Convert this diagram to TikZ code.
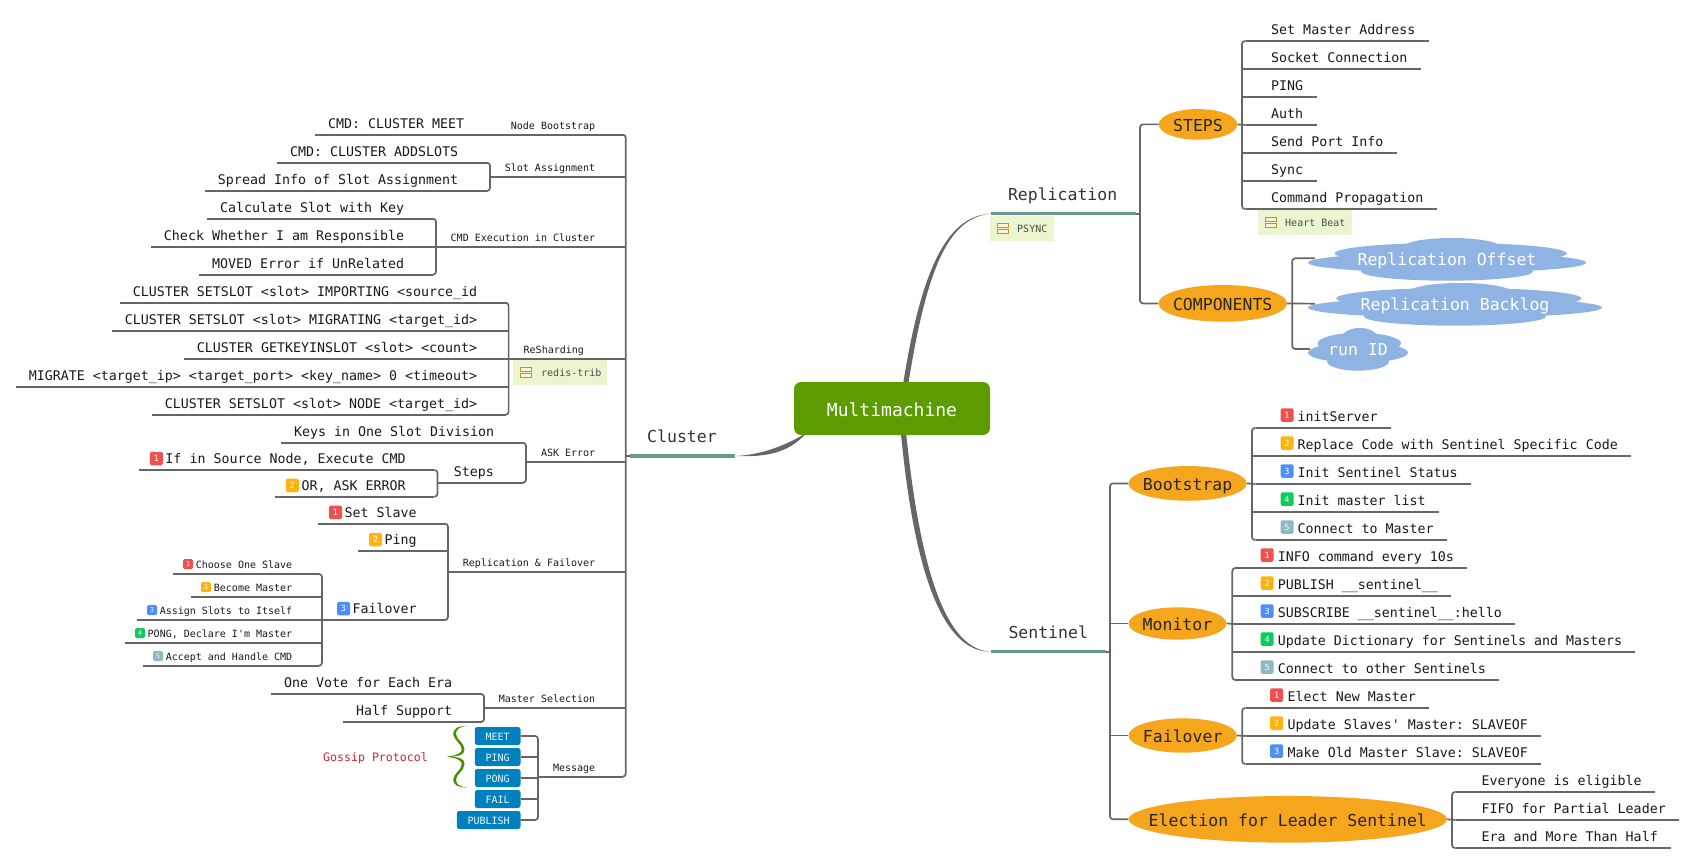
\documentclass[tikz,border=0pt]{standalone}
\usepackage{fontspec}
\setmonofont{DejaVu Sans Mono}
\usepackage{xcolor}
\usetikzlibrary{shapes.geometric,calc}

\definecolor{linegray}{HTML}{666666}
\definecolor{barteal}{HTML}{6B9A92}
\definecolor{rootgreen}{HTML}{5C9C00}
\definecolor{topicorange}{HTML}{F5A61D}
\definecolor{cloudblue}{HTML}{8FB4E3}
\definecolor{notegreen}{HTML}{EBF6D0}
\definecolor{iconbrown}{HTML}{C0922A}
\definecolor{iconfill}{HTML}{FDF3D8}
\definecolor{pillblue}{HTML}{0081BD}
\definecolor{bracegreen}{HTML}{4C8C00}
\definecolor{gossipred}{HTML}{C8282A}
\definecolor{bred}{HTML}{F05050}
\definecolor{borange}{HTML}{FFB310}
\definecolor{bblue}{HTML}{4D8EF7}
\definecolor{bgreen}{HTML}{0BCB5B}
\definecolor{bteal}{HTML}{8CB9C2}

\newcommand{\froot}{\ttfamily\fontsize{18}{20}\selectfont}
\newcommand{\ftopic}{\ttfamily\fontsize{16.5}{19}\selectfont}
\newcommand{\fleaf}{\ttfamily\fontsize{13.3}{15}\selectfont}
\newcommand{\fsmall}{\ttfamily\fontsize{10}{12}\selectfont}
\newcommand{\fgossip}{\ttfamily\fontsize{11.6}{13}\selectfont}
\newcommand{\fnum}{\ttfamily\fontsize{8.5}{9}\selectfont}
\newcommand{\fnumsm}{\ttfamily\fontsize{6.5}{7}\selectfont}
\newcommand{\ovtext}[1]{\makebox[0pt]{#1}}

\begin{document}
\begin{tikzpicture}[
    x=1pt, y=-1pt,
    branch/.style={draw=linegray, line width=1.7pt},
    corner/.style={branch, rounded corners=3pt},
    bar/.style={draw=barteal, line width=3.4pt},
    under/.style={append after command={(\tikzlastnode.south west) edge[branch] (\tikzlastnode.south east)}},
    lnode/.style 2 args={anchor=south west, inner xsep=0pt, text width=#1pt, align=flush right, execute at end node={\hspace*{#2pt}}},
    rnode/.style 2 args={anchor=south west, inner xsep=0pt, text width=#1pt, align=flush left, execute at begin node={\hspace*{#2pt}}},
    leaflook/.style={font=\fleaf, text=black!90, text height=10pt, text depth=3pt, inner ysep=3.3pt, under},
    smalllook/.style={font=\fsmall, text=black!90, text height=8pt, text depth=2.5pt, inner ysep=2.8pt, under},
    leftleaf/.style 2 args={lnode={#1}{#2}, leaflook},
    rightleaf/.style 2 args={rnode={#1}{#2}, leaflook},
    leftsmall/.style 2 args={lnode={#1}{#2}, smalllook},
    topic/.style 2 args={rnode={#1}{#2}, font=\ftopic, text=black!80, text height=12pt, text depth=3.5pt, inner ysep=9.6pt,
        append after command={(\tikzlastnode.south west) edge[bar] (\tikzlastnode.south east)}},
    rootbox/.style={rectangle, fill=rootgreen, rounded corners=7pt, text=white, font=\froot, minimum width=196pt, minimum height=53pt, text height=15.4pt, text depth=0pt},
    oval/.style={ellipse, fill=topicorange, inner sep=0pt, font=\ftopic, text=black!85, text height=14.5pt, text depth=0pt},
    notebox/.style 2 args={rnode={#1}{#2}, anchor=north west, fill=notegreen, font=\fsmall, text=black!70, inner ysep=0pt, minimum height=25pt, text height=8.5pt, text depth=0pt},
    pill/.style={rectangle, anchor=east, fill=pillblue, rounded corners=2.5pt, text=white!90!cyan, font=\fsmall, minimum height=18pt, inner sep=0pt, text height=8pt, text depth=0pt},
    badge/.style={rectangle, rounded corners=1.5pt, text=white, font=\fnum, minimum width=13pt, minimum height=13.5pt, inner sep=0pt},
    badgesm/.style={badge, font=\fnumsm, minimum width=10pt, minimum height=10pt},
    cloudy/.style 2 args={rectangle, inner sep=0pt, minimum width=#1pt, minimum height=#2pt, font=\ftopic, text=white, text height=11.4pt, text depth=0pt,
        path picture={
            \fill[cloudblue] ([shift={(.017*#1,-.29*#2)}]path picture bounding box.center) ellipse [x radius=.175*#1, y radius=.21*#2];
            \fill[cloudblue] ([shift={(.013*#1,-.15*#2)}]path picture bounding box.center) ellipse [x radius=.417*#1, y radius=.24*#2];
            \fill[cloudblue] ([shift={(0,.06*#2)}]path picture bounding box.center) ellipse [x radius=.5*#1, y radius=.23*#2];
            \fill[cloudblue] ([shift={(0,.26*#2)}]path picture bounding box.center) ellipse [x radius=.31*#1, y radius=.21*#2];
        }},
    noteicon/.pic={
        \draw[iconbrown, fill=iconfill, line width=.8pt] (0,-5.3) rectangle (11,-1);
        \draw[iconbrown, fill=iconfill, line width=.8pt] (0,1) rectangle (11,5.3);
    }
]
\useasboundingbox (0,0) rectangle (1696,864);

% main topics and the tapered links
\node[topic={145}{16.8}] (replication) at (991,213.7) {Replication};
\node[topic={115}{17.3}] (sentinel) at (991,651.7) {Sentinel};
\node[topic={105}{17}] (cluster) at (630,456) {Cluster};
\coordinate (rootup) at (905.7,384);
\coordinate (rootdown) at (903.5,433);
\coordinate (rootleft) at (806,433);
\fill[linegray] ([xshift=-2.6pt]rootup) .. controls (922.5,261) and (950,215.5) .. (replication.south west)
    .. controls (950,217.5) and (927.5,263) .. ([xshift=2.6pt]rootup) -- cycle;
\fill[linegray] ([xshift=-2.6pt]rootdown) .. controls (916,592) and (949,652.3) .. (sentinel.south west)
    .. controls (951,650) and (922,588) .. ([xshift=2.6pt]rootdown) -- cycle;
\fill[linegray] ([shift={(2.5,-1.5)}]rootleft) .. controls (786,446) and (760,455) .. (cluster.south east)
    .. controls (760,457) and (785,455) .. ([shift={(-3,3.5)}]rootleft) -- cycle;
\node[rootbox] (root) at (892,408.5) {Multimachine};

% cluster: trunk labels
\node[leftsmall={142.2}{27.2}] (tboot) at (480,134.7) {Node Bootstrap};
\node[leftsmall={132.2}{27.2}] (tslot) at (490,177) {Slot Assignment};
\node[leftsmall={186.2}{27.2}] (texec) at (436,246.7) {CMD Execution in Cluster};
\node[leftsmall={113.6}{38.5}] (tresh) at (508.6,358.7) {ReSharding};
\node[leftsmall={96.2}{27.2}] (task) at (526,462.3) {ASK Error};
\node[leftsmall={174.2}{27.2}] (trepl) at (448,571.7) {Replication \& Failover};
\node[leftsmall={138.2}{27.2}] (tmast) at (484,707.7) {Master Selection};
\node[leftsmall={84.2}{27.2}] (tmsg) at (538,776.7) {Message};
\coordinate (trunk) at (625.7,456);
\draw[corner] (tboot.south east) -| (trunk) |- (tmsg.south east);
\draw[branch] (cluster.south west) -- (trunk);
\draw[branch] (tslot.south east) -- (tslot.south east -| trunk);
\draw[branch] (texec.south east) -- (texec.south east -| trunk);
\draw[branch] (tresh.south east) -- (tresh.south east -| trunk);
\draw[branch] (task.south east) -- (task.south east -| trunk);
\draw[branch] (trepl.south east) -- (trepl.south east -| trunk);
\draw[branch] (tmast.south east) -- (tmast.south east -| trunk);

% cluster: leaves
\node[leftleaf={165}{16}] (meet) at (315,134.7) {CMD: CLUSTER MEET};
\node[leftleaf={209.5}{28.5}] (slot1) at (277,162.7) {CMD: CLUSTER ADDSLOTS};
\node[leftleaf={281.5}{28.5}] (slot2) at (205,191) {Spread Info of Slot Assignment};
\draw[corner] (slot1.south east) -| (tslot.south west) |- (slot2.south east);

\node[leftleaf={225.5}{28.5}] (exec1) at (207,218.7) {Calculate Slot with Key};
\node[leftleaf={281.5}{28.5}] (exec2) at (151,246.7) {Check Whether I am Responsible};
\node[leftleaf={233.5}{28.5}] (exec3) at (199,274.7) {MOVED Error if UnRelated};
\draw[corner] (exec1.south east) -| (texec.south west) |- (exec3.south east);
\draw[branch] (exec2.south east) -- (texec.south west);

\node[leftleaf={385.1}{28.1}] (resh1) at (120,302.7) {CLUSTER SETSLOT <slot> IMPORTING <source\_id};
\node[leftleaf={393.1}{28.1}] (resh2) at (112,330.7) {CLUSTER SETSLOT <slot> MIGRATING <target\_id>};
\node[leftleaf={321.1}{28.1}] (resh3) at (184,358.7) {CLUSTER GETKEYINSLOT <slot> <count>};
\node[leftleaf={489.1}{28.1}] (resh4) at (16,386.7) {MIGRATE <target\_ip> <target\_port> <key\_name> 0 <timeout>};
\node[leftleaf={353.1}{28.1}] (resh5) at (152,414.7) {CLUSTER SETSLOT <slot> NODE <target\_id>};
\draw[corner] (resh1.south east) -| (tresh.south west) |- (resh5.south east);
\draw[branch] (resh2.south east) -- (resh2.south east -| tresh.south west);
\draw[branch] (resh3.south east) -- (tresh.south west);
\draw[branch] (resh4.south east) -- (resh4.south east -| tresh.south west);
\node[notebox={94}{28}] (notetrib) at (513,360) {redis-trib};
\pic (icontrib) at (520,372.5) {noteicon};

\node[leftleaf={241.5}{28.5}] (ask1) at (281,442.7) {Keys in One Slot Division};
\node[leftleaf={85}{28.9}] (asksteps) at (437.5,482.7) {Steps};
\draw[corner] (ask1.south east) -| (task.south west) |- (asksteps.south east);
\node[leftleaf={295}{28.5}] (step1) at (139,470) {If in Source Node, Execute CMD};
\node[leftleaf={159}{28.5}] (step2) at (275,496.7) {OR, ASK ERROR};
\draw[corner] (step1.south east) -| (asksteps.south west) |- (step2.south east);
\node[badge, fill=bred] (bstep1) at (156.3,458.5) {1};
\node[badge, fill=borange] (bstep2) at (292.3,485.4) {2};

\node[leftleaf={126.5}{28}] (rf1) at (318,523.7) {Set Slave};
\node[leftleaf={86.5}{28}] (rf2) at (358,550.7) {Ping};
\node[leftleaf={122.5}{28}] (rf3) at (322,620) {Failover};
\draw[corner] (rf1.south east) -| (trepl.south west) |- (rf3.south east);
\draw[branch] (rf2.south east) -- (rf2.south east -| trepl.south west);
\node[badge, fill=bred] (brf1) at (335.5,512.4) {1};
\node[badge, fill=borange] (brf2) at (375.5,539.5) {2};
\node[badge, fill=bblue] (brf3) at (343.5,608.5) {3};

\node[leftsmall={145.5}{26.5}] (over1) at (173,574) {Choose One Slave};
\node[leftsmall={127.5}{26.5}] (over2) at (191,596.7) {Become Master};
\node[leftsmall={181.5}{26.5}] (over3) at (137,620) {Assign Slots to Itself};
\node[leftsmall={193.5}{26.5}] (over4) at (125,642.7) {PONG, Declare I'm Master};
\node[leftsmall={175.5}{26.5}] (over5) at (143,665.7) {Accept and Handle CMD};
\draw[corner] (over1.south east) -| (rf3.south west) |- (over5.south east);
\draw[branch] (over2.south east) -- (over2.south east -| rf3.south west);
\draw[branch] (over3.south east) -- (rf3.south west);
\draw[branch] (over4.south east) -- (over4.south east -| rf3.south west);
\node[badgesm, fill=bred] (bover1) at (188,564) {1};
\node[badgesm, fill=borange] (bover2) at (206,587) {2};
\node[badgesm, fill=bblue] (bover3) at (152,610) {3};
\node[badgesm, fill=bgreen] (bover4) at (140,633) {4};
\node[badgesm, fill=bteal] (bover5) at (158,656) {5};

\node[leftleaf={209.5}{28.5}] (vote1) at (271,694) {One Vote for Each Era};
\node[leftleaf={137.5}{28.5}] (vote2) at (343,722) {Half Support};
\draw[corner] (vote1.south east) -| (tmast.south west) |- (vote2.south east);

\node[pill, minimum width=45.7pt] (msg1) at (520.7,736) {MEET};
\node[pill, minimum width=45.7pt] (msg2) at (520.7,757) {PING};
\node[pill, minimum width=45.7pt] (msg3) at (520.7,778) {PONG};
\node[pill, minimum width=45.7pt] (msg4) at (520.7,799) {FAIL};
\node[pill, minimum width=63.7pt] (msg5) at (520.7,820) {PUBLISH};
\draw[corner] (msg1.east) -| (tmsg.south west) |- (msg5.east);
\draw[branch] (msg2.east) -- (msg2.east -| tmsg.south west);
\draw[branch] (msg3.east) -- (msg3.east -| tmsg.south west);
\draw[branch] (msg4.east) -- (msg4.east -| tmsg.south west);
\fill[bracegreen] (468.3,725.7) .. controls (457,726) and (453,729) .. (453.2,734)
    .. controls (453.5,740) and (461.5,743) .. (461.8,749.5) .. controls (461.8,753.5) and (456,755.4) .. (446.7,756.7)
    .. controls (456,758) and (461.8,760) .. (461.8,764) .. controls (461.5,770.5) and (453.5,773.5) .. (453.2,779.5)
    .. controls (453,784.5) and (457,787.5) .. (468.3,787.7) .. controls (459,787) and (456,784) .. (456,779.5)
    .. controls (456,774) and (464.5,771) .. (464.5,764) .. controls (464.5,758.4) and (459,756.7) .. (446.7,756.7)
    .. controls (459,756.7) and (464.5,755) .. (464.5,749.5) .. controls (464.5,742.5) and (456,739.5) .. (456,734)
    .. controls (456,729.5) and (459,726.5) .. (468.3,725.7) -- cycle;
\node[font=\fgossip, text=gossipred, inner sep=0pt] (gossip) at (375.5,758.5) {Gossip Protocol};

% replication
\node[notebox={64}{27}] (notepsync) at (990,216) {PSYNC};
\pic (iconpsync) at (997,228.5) {noteicon};
\coordinate (repbr) at (1140,213.7);
\node[oval, minimum width=78.6pt, minimum height=30.7pt] (steps) at (1198,124.4) {\ovtext{STEPS}};
\node[oval, minimum width=128.6pt, minimum height=36.7pt] (components) at (1222.7,303.4) {\ovtext{COMPONENTS}};
\draw[branch] (replication.south east) -- (repbr);
\draw[corner] (steps.west) -| (repbr) |- (components.west);

\coordinate (stepbr) at (1242,125);
\node[rightleaf={183.5}{25.5}] (st1) at (1245.5,41) {Set Master Address};
\node[rightleaf={175.5}{25.5}] (st2) at (1245.5,69) {Socket Connection};
\node[rightleaf={71.5}{25.5}] (st3) at (1245.5,97) {PING};
\node[rightleaf={71.5}{25.5}] (st4) at (1245.5,125) {Auth};
\node[rightleaf={151.5}{25.5}] (st5) at (1245.5,153) {Send Port Info};
\node[rightleaf={71.5}{25.5}] (st6) at (1245.5,181) {Sync};
\node[rightleaf={191.5}{25.5}] (st7) at (1245.5,209) {Command Propagation};
\draw[branch] (steps.east) -- (st4.south west);
\draw[corner] (st1.south west) -| (stepbr) |- (st7.south west);
\draw[branch] (st2.south west) -- (st2.south west -| stepbr);
\draw[branch] (st3.south west) -- (st3.south west -| stepbr);
\draw[branch] (st5.south west) -- (st5.south west -| stepbr);
\draw[branch] (st6.south west) -- (st6.south west -| stepbr);
\node[notebox={94}{27}] (noteheart) at (1258,210) {Heart Beat};
\pic (iconheart) at (1265,222.5) {noteicon};

\node[cloudy={278}{44}] (cloud1) at (1447,260) {Replication Offset};
\node[cloudy={294}{44}] (cloud2) at (1455,305) {Replication Backlog};
\node[cloudy={100}{44}] (cloud3) at (1358,350) {run ID};
\coordinate (compbr) at (1292.2,303.7);
\draw[branch] (components.east) -- ([xshift=7pt,yshift=1.3pt]cloud2.west);
\draw[corner] ([xshift=7pt,yshift=1.7pt]cloud1.west) -| (compbr) |- ([xshift=2pt,yshift=1pt]cloud3.west);

% sentinel
\coordinate (sentbr) at (1110,651.7);
\node[oval, minimum width=118.3pt, minimum height=34.7pt] (boot) at (1187.6,483.4) {\ovtext{Bootstrap}};
\node[oval, minimum width=98pt, minimum height=32.4pt] (monitor) at (1177.5,623.5) {\ovtext{Monitor}};
\node[oval, minimum width=108.4pt, minimum height=34.4pt] (failover) at (1182.7,735.5) {\ovtext{Failover}};
\node[oval, minimum width=318.5pt, minimum height=46.7pt] (election) at (1287.8,819.3) {\ovtext{Election for Leader Sentinel}};
\draw[branch] (sentinel.south east) -- (sentbr);
\draw[corner] (boot.west) -| (sentbr) |- (election.west);
\draw[branch] (monitor.west) -- (monitor.west -| sentbr);
\draw[branch] (failover.west) -- (failover.west -| sentbr);

\coordinate (bootbr) at (1252,484);
\node[rightleaf={135.5}{41.8}] (bs1) at (1255.5,428) {initServer};
\node[rightleaf={375.3}{41.8}] (bs2) at (1255.5,456) {Replace Code with Sentinel Specific Code};
\node[rightleaf={215.2}{41.8}] (bs3) at (1255.5,484) {Init Sentinel Status};
\node[rightleaf={183.3}{41.8}] (bs4) at (1255.5,512) {Init master list};
\node[rightleaf={191.3}{41.8}] (bs5) at (1255.5,540) {Connect to Master};
\draw[branch] (boot.east) -- (bs3.south west);
\draw[corner] (bs1.south west) -| (bootbr) |- (bs5.south west);
\draw[branch] (bs2.south west) -- (bs2.south west -| bootbr);
\draw[branch] (bs4.south west) -- (bs4.south west -| bootbr);
\node[badge, fill=bred] (bbs1) at (1287,415) {1};
\node[badge, fill=borange] (bbs2) at (1287,443) {2};
\node[badge, fill=bblue] (bbs3) at (1287,471) {3};
\node[badge, fill=bgreen] (bbs4) at (1287,499) {4};
\node[badge, fill=bteal] (bbs5) at (1287,527) {5};

\coordinate (monbr) at (1232.3,624);
\node[rightleaf={231.2}{41.8}] (mn1) at (1235.8,568) {INFO command every 10s};
\node[rightleaf={214.8}{41.8}] (mn2) at (1235.8,596) {PUBLISH \_\_sentinel\_\_};
\node[rightleaf={278.7}{41.8}] (mn3) at (1235.8,624) {SUBSCRIBE \_\_sentinel\_\_:hello};
\node[rightleaf={399.2}{41.8}] (mn4) at (1235.8,652) {Update Dictionary for Sentinels and Masters};
\node[rightleaf={263.1}{41.8}] (mn5) at (1235.8,680) {Connect to other Sentinels};
\draw[branch] (monitor.east) -- (mn3.south west);
\draw[corner] (mn1.south west) -| (monbr) |- (mn5.south west);
\draw[branch] (mn2.south west) -- (mn2.south west -| monbr);
\draw[branch] (mn4.south west) -- (mn4.south west -| monbr);
\node[badge, fill=bred] (bmn1) at (1267.2,555) {1};
\node[badge, fill=borange] (bmn2) at (1267.2,583) {2};
\node[badge, fill=bblue] (bmn3) at (1267.2,611) {3};
\node[badge, fill=bgreen] (bmn4) at (1267.2,639) {4};
\node[badge, fill=bteal] (bmn5) at (1267.2,667) {5};

\coordinate (failbr) at (1242.2,736);
\node[rightleaf={183.2}{41.8}] (fl1) at (1245.7,708) {Elect New Master};
\node[rightleaf={295}{41.8}] (fl2) at (1245.7,736) {Update Slaves' Master: SLAVEOF};
\node[rightleaf={295}{41.8}] (fl3) at (1245.7,764) {Make Old Master Slave: SLAVEOF};
\draw[branch] (failover.east) -- (fl2.south west);
\draw[corner] (fl1.south west) -| (failbr) |- (fl3.south west);
\node[badge, fill=bred] (bfl1) at (1276.7,695) {1};
\node[badge, fill=borange] (bfl2) at (1276.7,723) {2};
\node[badge, fill=bblue] (bfl3) at (1276.7,751) {3};

\coordinate (elecbr) at (1452,820);
\node[rightleaf={199.3}{25.9}] (el1) at (1455.5,792) {Everyone is eligible};
\node[rightleaf={223.2}{25.9}] (el2) at (1455.5,820) {FIFO for Partial Leader};
\node[rightleaf={215.2}{25.9}] (el3) at (1455.5,848) {Era and More Than Half};
\draw[branch] (election.east) -- (el2.south west);
\draw[corner] (el1.south west) -| (elecbr) |- (el3.south west);
\end{tikzpicture}
\end{document}
